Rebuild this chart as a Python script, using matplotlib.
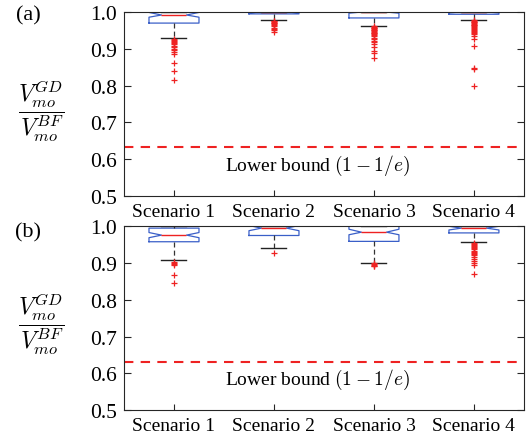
import matplotlib
matplotlib.use("Agg")
import matplotlib.pyplot as plt
import numpy as np

plt.rcParams['font.family'] = ['Liberation Serif', 'DejaVu Serif']
plt.rcParams['mathtext.fontset'] = 'cm'

categories = ["Scenario 1", "Scenario 2", "Scenario 3", "Scenario 4"]
lower_bound = 1 - 1 / np.e

# Panel (a)
a_med = [0.992, 1.000, 1.000, 1.000]
a_q1 = [0.970, 0.995, 0.984, 0.994]
a_q3 = [1.000, 1.000, 1.000, 1.000]
a_cilo = [0.986, 0.998, 0.997, 0.998]
a_cihi = [0.999, 1.000, 1.000, 1.000]
a_wlo = [0.929, 0.979, 0.963, 0.979]
a_whi = [1.000, 1.000, 1.000, 1.000]
a_fliers = [
    [0.926, 0.924, 0.921, 0.918, 0.915, 0.912, 0.909, 0.905, 0.900, 0.896, 0.891, 0.887, 0.861, 0.840, 0.816],
    [0.977, 0.975, 0.973, 0.971, 0.969, 0.967, 0.965, 0.962, 0.958, 0.955, 0.950, 0.947],
    [0.962, 0.960, 0.958, 0.956, 0.954, 0.952, 0.950, 0.948, 0.946, 0.944, 0.942, 0.940, 0.937,
     0.934, 0.930, 0.926, 0.922, 0.918, 0.912, 0.906, 0.895, 0.890, 0.874],
    [0.978, 0.976, 0.974, 0.972, 0.970, 0.968, 0.966, 0.964, 0.962, 0.960, 0.957, 0.954, 0.951,
     0.948, 0.945, 0.942, 0.939, 0.934, 0.927, 0.908, 0.847, 0.845, 0.800],
]

# Panel (b)
b_med = [0.976, 0.995, 0.984, 0.995]
b_q1 = [0.958, 0.975, 0.959, 0.982]
b_q3 = [0.995, 1.000, 1.000, 1.000]
b_cilo = [0.969, 0.988, 0.977, 0.990]
b_cihi = [0.983, 1.002, 0.992, 1.000]
b_wlo = [0.909, 0.940, 0.900, 0.956]
b_whi = [1.000, 1.000, 1.000, 1.000]
b_fliers = [
    [0.902, 0.900, 0.898, 0.896, 0.867, 0.845],
    [0.927],
    [0.899, 0.897, 0.895, 0.893, 0.891],
    [0.955, 0.952, 0.949, 0.946, 0.943, 0.940, 0.937, 0.934, 0.931, 0.928, 0.925, 0.921,
     0.917, 0.911, 0.905, 0.900, 0.895, 0.870],
]

fig = plt.figure(figsize=(5.29, 4.35), dpi=100)
ax_a = fig.add_axes([0.2344, 0.547, 0.756, 0.423])
ax_b = fig.add_axes([0.2344, 0.0545, 0.756, 0.423])

blue = '#3a5fc8'
red = '#ee2222'


def draw(ax, med, q1, q3, cilo, cihi, wlo, whi, fliers):
    stats = []
    for i in range(len(categories)):
        stats.append(dict(med=med[i], q1=q1[i], q3=q3[i], cilo=cilo[i], cihi=cihi[i],
                          whislo=wlo[i], whishi=whi[i], fliers=fliers[i], label=categories[i]))
    ax.bxp(stats, positions=range(1, 5), widths=0.5, shownotches=True,
           boxprops=dict(color=blue, linewidth=0.9),
           whiskerprops=dict(color='#333333', linestyle=(0, (4, 2.5)), linewidth=0.9),
           capprops=dict(color='#222222', linewidth=1.0),
           medianprops=dict(color=red, linewidth=1.0),
           flierprops=dict(marker='+', markeredgecolor=red, markersize=5, markeredgewidth=0.9,
                           linestyle='none'))
    ax.axhline(lower_bound, color=red, linestyle=(0, (4.5, 3.5)), linewidth=1.5, zorder=1)
    ax.set_xlim(0.5, 4.5)
    ax.set_ylim(0.5, 1.0)
    ax.set_yticks([0.5, 0.6, 0.7, 0.8, 0.9, 1.0])
    ax.set_yticklabels(['0.5', '0.6', '0.7', '0.8', '0.9', '1.0'])
    ax.set_xticks(range(1, 5))
    ax.set_xticklabels(categories)
    ax.tick_params(axis='y', direction='in', right=True, length=5, labelsize=15.5, colors='#262626',
                   labelcolor='black', pad=5)
    ax.tick_params(axis='x', direction='in', length=4, labelsize=14, pad=5, colors='#262626',
                   labelcolor='black')
    for s in ax.spines.values():
        s.set_color('#262626')
        s.set_linewidth(0.8)
    ax.text(2.43, 0.585, r'Lower bound $(1-1/e)$', ha='center', va='center', fontsize=14)


draw(ax_a, a_med, a_q1, a_q3, a_cilo, a_cihi, a_wlo, a_whi, a_fliers)
draw(ax_b, b_med, b_q1, b_q3, b_cilo, b_cihi, b_wlo, b_whi, b_fliers)

ylab = r'$\dfrac{V_{mo}^{GD}}{V_{mo}^{BF}}$'
fig.text(41 / 529, 1 - 111 / 435, ylab, ha='center', va='center', fontsize=17)
fig.text(41 / 529, 1 - 324 / 435, ylab, ha='center', va='center', fontsize=17)
fig.text(28 / 529, 1 - 16 / 435, '(a)', ha='center', va='center', fontsize=16)
fig.text(28 / 529, 1 - 233 / 435, '(b)', ha='center', va='center', fontsize=16)

fig.savefig('out.png', dpi=100)
